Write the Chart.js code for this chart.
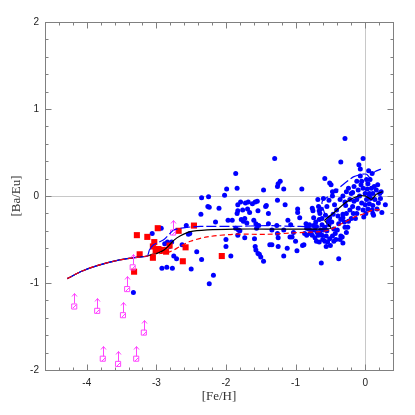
<!DOCTYPE html>
<html>
<head>
<meta charset="utf-8">
<script src="https://cdn.jsdelivr.net/npm/chart.js@4.4.1/dist/chart.umd.min.js"></script>
<style>
html,body{margin:0;padding:0;background:#fff;}
#wrap{width:415px;height:415px;}
</style>
</head>
<body>
<div id="wrap"><canvas id="c" width="415" height="415"></canvas></div>
<script>
// ---- data ----
const xTickValues = [-4, -3, -2, -1, 0];
const yTickValues = [-2, -1, 0, 1, 2];

// field stars [Fe/H, Ba/Eu]
const fieldStars = [
[-3.33,-1.11],[-3.06,-0.43],[-2.93,-0.37],[-2.88,-0.55],[-2.84,-0.53],[-2.78,-0.53],[-2.81,-0.58],
[-2.75,-0.69],[-2.71,-0.72],[-2.92,-0.83],[-2.85,-0.82],[-2.77,-0.83],[-2.63,-0.56],[-2.57,-0.34],
[-2.54,-0.44],[-2.52,-0.43],[-2.42,-0.64],[-2.35,-0.73],[-2.50,-0.84],[-2.35,-0.02],[-2.25,-0.01],
[-2.24,-0.13],[-2.26,-0.12],[-2.10,-0.14],[-2.36,-0.21],[-2.15,-0.30],[-2.02,0.01],[-1.99,0.08],
[-1.86,0.26],[-1.84,0.09],[-1.83,-0.10],[-1.84,-0.20],[-1.97,-0.28],[-1.91,-0.28],[-1.86,-0.37],
[-2.00,-0.50],[-2.00,-0.58],[-1.93,-0.69],[-2.18,-0.91],[-2.24,-1.01],[-1.82,-0.39],[-1.83,-0.17],
[-1.79,-0.07],[-1.72,-0.08],[-1.69,-0.15],[-1.68,-0.07],[-1.66,-0.19],[-1.62,-0.09],[-1.58,-0.07],
[-1.55,-0.06],[-1.73,-0.26],[-1.70,-0.31],[-1.60,-0.28],[-1.57,-0.32],[-1.56,-0.37],[-1.53,-0.34],
[-1.54,-0.17],[-1.43,-0.12],[-1.46,0.07],[-1.39,-0.20],[-1.39,-0.32],[-1.34,-0.39],[-1.80,-0.40],
[-1.83,-0.45],[-1.73,-0.48],[-1.59,-0.49],[-1.58,-0.58],[-1.57,-0.62],[-1.54,-0.66],[-1.52,-0.67],
[-1.50,-0.70],[-1.46,-0.75],[-1.37,-0.56],[-1.34,-0.56],[-1.30,0.43],[-1.26,0.11],[-1.25,0.14],
[-1.22,0.17],[-1.26,-0.05],[-1.17,0.08],[-1.27,-0.34],[-1.26,-0.43],[-1.25,-0.48],[-1.25,-0.58],
[-1.17,-0.39],[-1.17,-0.69],[-1.12,-0.60],[-1.11,-0.28],[-1.07,-0.33],[-1.08,-0.47],[-1.05,-0.47],
[-1.03,-0.42],[-1.00,-0.52],[-0.98,-0.63],[-0.97,-0.19],[-0.97,-0.15],[-0.94,-0.25],[-0.91,0.08],
[-0.90,-0.57],[-0.88,-0.56],[-0.87,-0.43],[-0.85,-0.32],[-0.84,-0.37],[-0.81,-0.38],[-0.77,-0.40],
[-1.15,-0.10],[-1.42,-0.11],[-1.76,-0.16],[-1.78,-0.27],[-1.75,-0.29],
[-0.76,-0.14],[-0.75,-0.17],[-0.74,-0.25],[-0.71,-0.30],[-0.74,-0.34],[-0.67,-0.12],[-0.68,-0.04],
[-0.66,-0.17],[-0.65,-0.20],[-0.64,-0.15],[-0.60,-0.03],[-0.58,0.20],[-0.51,0.15],[-0.49,0.13],
[-0.47,0.05],[-0.47,0.00],[-0.42,0.06],[-0.44,-0.10],[-0.66,-0.27],[-0.70,-0.35],[-0.64,-0.39],
[-0.67,-0.45],[-0.72,-0.48],[-0.66,-0.53],[-0.61,-0.50],[-0.56,-0.46],[-0.63,-0.77],[-0.54,-0.53],
[-0.51,-0.49],[-0.47,-0.46],[-0.43,-0.43],[-0.40,-0.39],[-0.35,-0.46],[-0.33,-0.47],[-0.32,-0.54],
[-0.38,-0.72],[-0.29,-0.36],[-0.51,-0.25],[-0.53,-0.29],[-0.57,-0.22],[-0.46,-0.21],[-0.41,-0.16],
[-0.39,-0.23],[-0.35,-0.27],[-0.32,-0.21],[-0.36,-0.04],[-0.32,0.00],[-0.29,-0.07],[-0.28,-0.11],
[-0.27,0.05],[-0.24,0.09],[-0.22,-0.04],[-0.20,0.03],[-0.18,-0.12],[-0.16,-0.06],[-0.29,0.66],
[-0.35,0.39],[-0.09,0.36],[-0.03,0.43],[-0.07,0.31],[0.05,0.29],[0.10,0.26],[-0.07,0.23],
[-0.12,0.17],[-0.05,0.17],[0.02,0.19],[0.07,0.19],[-0.16,0.11],[-0.10,0.07],[-0.03,0.09],
[0.03,0.08],[0.09,0.09],[0.13,0.11],[0.00,0.03],[0.06,0.03],[0.11,0.03],[-0.08,0.00],[-0.12,-0.04],
[0.02,-0.04],[0.08,-0.03],[0.14,-0.04],[-0.05,-0.08],[0.00,-0.10],[0.06,-0.09],[0.11,-0.11],
[-0.10,-0.14],[-0.03,-0.16],[0.04,-0.15],[0.10,-0.16],[0.17,-0.15],[-0.12,-0.20],[0.01,-0.20],
[0.11,-0.20],[0.24,-0.19],[0.29,-0.10],[0.21,0.03],[0.23,0.05],[0.16,0.07],[-0.14,-0.26],
[-0.24,-0.29],[-0.27,-0.20],[-0.32,-0.25],[-0.22,-0.16],[-0.17,-0.20],[-0.36,-0.50],[-0.72,-0.39],
[-0.79,-0.43],[-0.84,-0.45],[-0.65,-0.43],[-0.60,-0.39],[-0.69,-0.42],[-0.62,-0.33],[-0.58,-0.36],
[-0.55,-0.40],[-0.52,-0.33],[-0.62,-0.45],[-0.58,-0.52],[-0.70,-0.52],[-0.76,-0.45],[-0.80,-0.33],
[-0.62,-0.26],[-0.55,-0.12],[-0.52,-0.05],[-0.48,-0.30],[-0.45,-0.38],[-0.42,-0.50],[-0.38,-0.32],
[-0.30,-0.30],[-0.25,-0.36],[-0.20,-0.26],[-0.27,-0.42],[-0.45,-0.52],[-0.50,-0.57],[-0.56,-0.58],
[0.19,-0.08],[0.22,-0.03],[0.18,0.13],[-0.06,0.13],[0.04,0.14],[-0.18,0.04],[0.12,-0.22],
[-0.02,-0.24],[0.06,0.00]
];

// halo stars (red squares)
const haloStars = [
[-3.28,-0.45],[-3.13,-0.47],[-2.98,-0.37],[-3.03,-0.53],[-3.05,-0.58],[-3.01,-0.62],[-2.97,-0.61],
[-3.05,-0.71],[-3.24,-0.67],[-3.32,-0.87],[-2.86,-0.64],[-2.81,-0.57],[-2.68,-0.40],[-2.46,-0.34],
[-2.58,-0.59],[-2.62,-0.75],[-2.06,-0.69],[-2.89,-0.62]
];

// lower limits (magenta open squares with arrows)
const lowerLimits = [
[-4.18,-1.27],[-3.85,-1.32],[-3.48,-1.37],[-3.18,-1.57],[-3.77,-1.87],[-3.55,-1.93],
[-3.29,-1.87],[-3.42,-1.07],[-3.34,-0.82],[-2.76,-0.42]
];

// model curves
const modelBlack = [
[-4.28,-0.95],[-4.09,-0.87],[-3.85,-0.80],[-3.56,-0.74],[-3.32,-0.71],[-3.13,-0.69],[-3.06,-0.67],
[-2.99,-0.66],[-2.89,-0.62],[-2.82,-0.57],[-2.75,-0.51],[-2.66,-0.46],[-2.51,-0.41],[-2.27,-0.39],
[-1.89,-0.38],[-1.41,-0.38],[-0.94,-0.38],[-0.65,-0.38],[-0.49,-0.37],[-0.58,-0.28],[-0.46,-0.20],
[-0.27,-0.07],[-0.10,0.00],[0.00,0.00],[0.09,-0.04],[0.16,0.02],[0.25,0.05]
];
const modelBlue = [
[-4.28,-0.95],[-4.09,-0.87],[-3.85,-0.80],[-3.56,-0.74],[-3.32,-0.71],[-3.13,-0.69],[-3.10,-0.62],
[-3.04,-0.56],[-2.89,-0.50],[-2.75,-0.39],[-2.56,-0.36],[-2.37,-0.35],[-1.89,-0.35],[-1.41,-0.34],
[-0.94,-0.35],[-0.55,-0.34],[-0.62,-0.07],[-0.46,0.03],[-0.32,0.13],[-0.17,0.22],[-0.05,0.25],
[0.02,0.25],[0.07,0.21],[0.14,0.28],[0.23,0.31]
];
const modelRed = [
[-4.28,-0.95],[-4.09,-0.87],[-3.85,-0.80],[-3.56,-0.74],[-3.32,-0.71],[-3.13,-0.69],[-3.06,-0.67],
[-2.94,-0.66],[-2.80,-0.64],[-2.66,-0.58],[-2.51,-0.52],[-2.27,-0.47],[-1.89,-0.44],[-1.41,-0.44],
[-0.94,-0.42],[-0.65,-0.41],[-0.51,-0.39],[-0.41,-0.35],[-0.27,-0.29],[-0.12,-0.23],[0.00,-0.20],
[0.11,-0.16],[0.23,-0.16]
];

const toPts = a => a.map(p => ({x: p[0], y: p[1]}));

const framePlugin = {
  id: 'frame',
  beforeDatasetsDraw(chart) {
    const {ctx, chartArea: a, scales: {x, y}} = chart;
    ctx.save();
    ctx.strokeStyle = '#c8c8c8';
    ctx.lineWidth = 1;
    const y0 = Math.round(y.getPixelForValue(0)) + 0.5;
    const x0 = Math.round(x.getPixelForValue(0)) + 0.5;
    ctx.beginPath();
    ctx.moveTo(a.left, y0); ctx.lineTo(a.right, y0);
    ctx.moveTo(x0, a.top); ctx.lineTo(x0, a.bottom);
    ctx.stroke();
    ctx.restore();
  },
  afterDatasetsDraw(chart) {
    const {ctx, chartArea: a, scales: {x, y}} = chart;
    ctx.save();
    // magenta arrows for lower limits
    const meta = chart.getDatasetMeta(3);
    ctx.strokeStyle = '#ff44ff';
    ctx.lineWidth = 1;
    meta.data.forEach(el => {
      const px = Math.round(el.x) + 0.5, py = Math.round(el.y) + 0.5;
      ctx.beginPath();
      ctx.moveTo(px, py - 3);
      ctx.lineTo(px, py - 13);
      ctx.moveTo(px - 2.5, py - 10);
      ctx.lineTo(px, py - 13);
      ctx.lineTo(px + 2.5, py - 10);
      ctx.moveTo(px - 1.5, py + 1.5);
      ctx.lineTo(px + 1.5, py - 1.5);
      ctx.stroke();
    });
    // frame
    ctx.strokeStyle = '#808080';
    ctx.lineWidth = 1;
    const L = Math.round(a.left) + 0.5, R = Math.round(a.right) + 0.5;
    const T = Math.round(a.top) + 0.5, B = Math.round(a.bottom) + 0.5;
    ctx.strokeRect(L, T, R - L, B - T);
    ctx.beginPath();
    // x ticks every 0.2
    for (let i = -23; i <= 2; i++) {
      const v = i / 5;
      if (v < x.min - 1e-9 || v > x.max + 1e-9) continue;
      const major = Math.abs(v - Math.round(v)) < 1e-9;
      const len = major ? 6 : 3;
      const px = Math.round(x.getPixelForValue(v)) + 0.5;
      ctx.moveTo(px, B); ctx.lineTo(px, B - len);
      ctx.moveTo(px, T); ctx.lineTo(px, T + len);
    }
    for (let i = -10; i <= 10; i++) {
      const v = i / 5;
      const major = Math.abs(v - Math.round(v)) < 1e-9;
      const len = major ? 6 : 3;
      const py = Math.round(y.getPixelForValue(v)) + 0.5;
      ctx.moveTo(L, py); ctx.lineTo(L + len, py);
      ctx.moveTo(R, py); ctx.lineTo(R - len, py);
    }
    ctx.stroke();
    ctx.restore();
  }
};

new Chart(document.getElementById('c'), {
  type: 'scatter',
  data: {
    datasets: [
      {
        label: 'red model',
        data: toPts(modelRed),
        showLine: true, pointRadius: 0, borderColor: '#ff0000', borderWidth: 1.2,
        borderDash: [5, 3], tension: 0.3, fill: false
      },
      {
        label: 'blue model',
        data: toPts(modelBlue),
        showLine: true, pointRadius: 0, borderColor: '#0000ff', borderWidth: 1.2,
        tension: 0.2, fill: false,
        segment: { borderDash: ctx => ctx.p0.parsed.x > -3.12 ? [10, 3] : [] }
      },
      {
        label: 'black model',
        data: toPts(modelBlack),
        showLine: true, pointRadius: 0, borderColor: '#000000', borderWidth: 1.2,
        tension: 0.2, fill: false
      },
      {
        label: 'lower limits',
        data: toPts(lowerLimits),
        pointStyle: 'rect', pointRadius: 3.6, borderColor: '#ff44ff', borderWidth: 1,
        backgroundColor: 'rgba(0,0,0,0)'
      },
      {
        label: 'halo',
        data: toPts(haloStars),
        pointStyle: 'rect', pointRadius: 4.3, borderWidth: 0,
        backgroundColor: '#ff0000', borderColor: '#ff0000'
      },
      {
        label: 'field',
        data: toPts(fieldStars),
        pointStyle: 'circle', pointRadius: 2.5, borderWidth: 0,
        backgroundColor: '#0000ff', borderColor: '#0000ff'
      }
    ]
  },
  options: {
    responsive: false,
    animation: false,
    events: [],
    layout: { padding: { top: 22, right: 22, left: 0, bottom: 0 } },
    plugins: { legend: { display: false }, tooltip: { enabled: false } },
    scales: {
      x: {
        type: 'linear', min: -4.6, max: 0.4,
        grid: { display: false, drawTicks: false },
        border: { display: false },
        afterBuildTicks: s => { s.ticks = xTickValues.map(v => ({value: v})); },
        afterFit: s => { s.height = 45; },
        ticks: { padding: 7, color: '#222', font: { family: 'Liberation Sans', size: 10 },
                 maxRotation: 0, callback: v => String(v) },
        title: { display: true, text: '[Fe/H]', color: '#333',
                 font: { family: 'Liberation Serif', size: 13 }, padding: { bottom: 11, top: 0 } }
      },
      y: {
        type: 'linear', min: -2, max: 2,
        grid: { display: false, drawTicks: false },
        border: { display: false },
        afterBuildTicks: s => { s.ticks = yTickValues.map(v => ({value: v})); },
        afterFit: s => { s.width = 45; },
        ticks: { padding: 6, color: '#222', font: { family: 'Liberation Sans', size: 10 },
                 callback: v => String(v) },
        title: { display: true, text: '[Ba/Eu]', color: '#333',
                 font: { family: 'Liberation Serif', size: 13 }, padding: { top: 9, bottom: 0 } }
      }
    }
  },
  plugins: [framePlugin]
});
</script>
</body>
</html>
